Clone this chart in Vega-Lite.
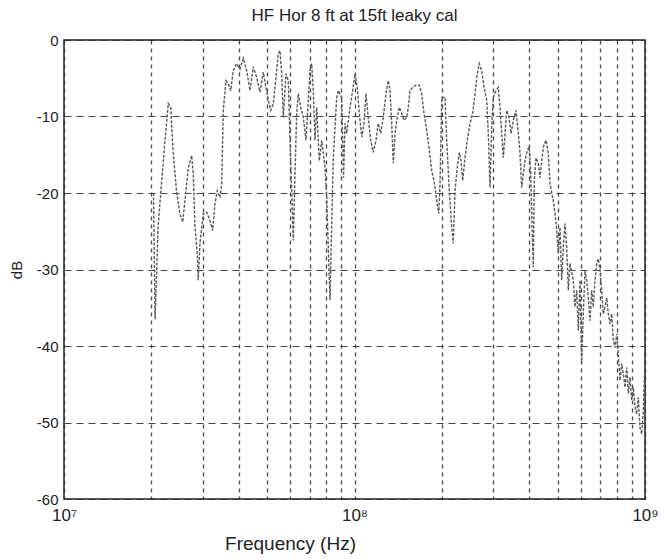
{
  "$schema": "https://vega.github.io/schema/vega-lite/v6.json",
  "width": 581,
  "height": 459,
  "autosize": {"type": "none"},
  "padding": {"left": 64, "top": 40, "right": 25, "bottom": 60},
  "background": "white",
  "title": {"text": "HF Hor 8 ft at 15ft leaky cal", "font": "Liberation Sans", "fontSize": 17, "fontWeight": "normal", "color": "#222", "offset": 8},
  "config": {
    "view": {"stroke": "#222", "strokeWidth": 1.5},
    "axis": {"labelFont": "Liberation Sans", "titleFont": "Liberation Sans", "labelColor": "#222", "titleColor": "#222", "domain": false, "ticks": false, "gridColor": "#333", "gridOpacity": 0.9}
  },
  "data": {"values": [
    {"f": 2.033e7, "db": -20}, {"f": 2.058e7, "db": -36.5}, {"f": 2.082e7, "db": -31}, {"f": 2.107e7, "db": -24.5},
    {"f": 2.169e7, "db": -18.4}, {"f": 2.227e7, "db": -13.1}, {"f": 2.286e7, "db": -8.3}, {"f": 2.330e7, "db": -8.8},
    {"f": 2.373e7, "db": -14.4}, {"f": 2.443e7, "db": -20}, {"f": 2.507e7, "db": -22.7}, {"f": 2.562e7, "db": -23.8},
    {"f": 2.609e7, "db": -21}, {"f": 2.678e7, "db": -16.7}, {"f": 2.751e7, "db": -15.1}, {"f": 2.786e7, "db": -17.5},
    {"f": 2.824e7, "db": -24.5}, {"f": 2.876e7, "db": -27.9}, {"f": 2.898e7, "db": -31.4}, {"f": 2.938e7, "db": -26.6},
    {"f": 3.016e7, "db": -22.7}, {"f": 3.098e7, "db": -22.5}, {"f": 3.180e7, "db": -23.6}, {"f": 3.249e7, "db": -24.9},
    {"f": 3.309e7, "db": -21.4}, {"f": 3.370e7, "db": -19.7}, {"f": 3.443e7, "db": -20.6}, {"f": 3.490e7, "db": -18.8},
    {"f": 3.535e7, "db": -9.2}, {"f": 3.611e7, "db": -5.3}, {"f": 3.678e7, "db": -5.7}, {"f": 3.748e7, "db": -6.6},
    {"f": 3.826e7, "db": -4.0}, {"f": 3.931e7, "db": -3.1}, {"f": 4.035e7, "db": -3.8}, {"f": 4.142e7, "db": -2.4},
    {"f": 4.255e7, "db": -4.0}, {"f": 4.368e7, "db": -6.6}, {"f": 4.483e7, "db": -3.5}, {"f": 4.605e7, "db": -4.9},
    {"f": 4.728e7, "db": -6.8}, {"f": 4.853e7, "db": -4.2}, {"f": 4.958e7, "db": -6.2}, {"f": 5.049e7, "db": -7.9},
    {"f": 5.145e7, "db": -9.2}, {"f": 5.253e7, "db": -8.3}, {"f": 5.367e7, "db": -4.9}, {"f": 5.466e7, "db": -1.8},
    {"f": 5.540e7, "db": -1.4}, {"f": 5.615e7, "db": -4.4}, {"f": 5.687e7, "db": -10.1}, {"f": 5.810e7, "db": -4.4},
    {"f": 5.917e7, "db": -5.3}, {"f": 5.998e7, "db": -13.1}, {"f": 6.079e7, "db": -19.7}, {"f": 6.156e7, "db": -26.2},
    {"f": 6.240e7, "db": -17.5}, {"f": 6.324e7, "db": -9.6}, {"f": 6.405e7, "db": -7.0}, {"f": 6.528e7, "db": -8.8},
    {"f": 6.665e7, "db": -10.1}, {"f": 6.808e7, "db": -13.1}, {"f": 6.934e7, "db": -7.9}, {"f": 7.027e7, "db": -4.0},
    {"f": 7.123e7, "db": -3.1}, {"f": 7.214e7, "db": -6.6}, {"f": 7.311e7, "db": -13.1}, {"f": 7.411e7, "db": -8.8},
    {"f": 7.565e7, "db": -15.8}, {"f": 7.711e7, "db": -13.1}, {"f": 7.915e7, "db": -16.6}, {"f": 8.022e7, "db": -20.6},
    {"f": 8.124e7, "db": -27.1}, {"f": 8.235e7, "db": -34.0}, {"f": 8.346e7, "db": -24}, {"f": 8.453e7, "db": -15.4},
    {"f": 8.684e7, "db": -7.5}, {"f": 8.795e7, "db": -6.6}, {"f": 9.035e7, "db": -7.5}, {"f": 9.166e7, "db": -18},
    {"f": 9.276e7, "db": -10.9}, {"f": 9.400e7, "db": -12.2}, {"f": 9.650e7, "db": -8.8}, {"f": 9.858e7, "db": -6.6},
    {"f": 1.004e8, "db": -4.4}, {"f": 1.022e8, "db": -6.2}, {"f": 1.039e8, "db": -9.6}, {"f": 1.059e8, "db": -12.7},
    {"f": 1.078e8, "db": -10.9}, {"f": 1.095e8, "db": -7.0}, {"f": 1.115e8, "db": -10.1}, {"f": 1.137e8, "db": -13.1},
    {"f": 1.160e8, "db": -14.7}, {"f": 1.186e8, "db": -13.1}, {"f": 1.207e8, "db": -10.9}, {"f": 1.231e8, "db": -12.2},
    {"f": 1.256e8, "db": -10.1}, {"f": 1.284e8, "db": -7.0}, {"f": 1.307e8, "db": -5.3}, {"f": 1.325e8, "db": -6.6},
    {"f": 1.343e8, "db": -10.9}, {"f": 1.360e8, "db": -16.1}, {"f": 1.379e8, "db": -12.2}, {"f": 1.398e8, "db": -10.5},
    {"f": 1.427e8, "db": -8.8}, {"f": 1.454e8, "db": -9.6}, {"f": 1.481e8, "db": -10.5}, {"f": 1.513e8, "db": -10.1},
    {"f": 1.532e8, "db": -8.8}, {"f": 1.552e8, "db": -6.6}, {"f": 1.586e8, "db": -6.2}, {"f": 1.628e8, "db": -5.9},
    {"f": 1.671e8, "db": -5.9}, {"f": 1.703e8, "db": -7.0}, {"f": 1.735e8, "db": -9.6}, {"f": 1.772e8, "db": -11.8},
    {"f": 1.805e8, "db": -14.0}, {"f": 1.844e8, "db": -17.1}, {"f": 1.878e8, "db": -18.4}, {"f": 1.919e8, "db": -21.0},
    {"f": 1.950e8, "db": -22.7}, {"f": 1.970e8, "db": -18.8}, {"f": 1.997e8, "db": -7.5}, {"f": 2.049e8, "db": -7.5},
    {"f": 2.077e8, "db": -13.1}, {"f": 2.120e8, "db": -19.7}, {"f": 2.161e8, "db": -24.5}, {"f": 2.188e8, "db": -26.6},
    {"f": 2.218e8, "db": -19.7}, {"f": 2.259e8, "db": -16.6}, {"f": 2.295e8, "db": -14.7}, {"f": 2.326e8, "db": -15.8},
    {"f": 2.358e8, "db": -18.4}, {"f": 2.401e8, "db": -15.4}, {"f": 2.445e8, "db": -13.1}, {"f": 2.498e8, "db": -10.9},
    {"f": 2.552e8, "db": -9.6}, {"f": 2.599e8, "db": -7.0}, {"f": 2.647e8, "db": -4.4}, {"f": 2.689e8, "db": -3.1},
    {"f": 2.741e8, "db": -4.0}, {"f": 2.792e8, "db": -6.2}, {"f": 2.852e8, "db": -7.9}, {"f": 2.888e8, "db": -12.2},
    {"f": 2.927e8, "db": -19.3}, {"f": 2.967e8, "db": -11.4}, {"f": 3.005e8, "db": -7.5}, {"f": 3.070e8, "db": -6.6},
    {"f": 3.126e8, "db": -6.2}, {"f": 3.169e8, "db": -8.8}, {"f": 3.212e8, "db": -12.2}, {"f": 3.253e8, "db": -15.4},
    {"f": 3.297e8, "db": -12.2}, {"f": 3.341e8, "db": -9.2}, {"f": 3.403e8, "db": -10.1}, {"f": 3.457e8, "db": -12.2},
    {"f": 3.521e8, "db": -10.5}, {"f": 3.597e8, "db": -9.2}, {"f": 3.664e8, "db": -12.2}, {"f": 3.713e8, "db": -14.8},
    {"f": 3.764e8, "db": -19.3}, {"f": 3.812e8, "db": -17.5}, {"f": 3.863e8, "db": -15.8}, {"f": 3.934e8, "db": -14.4},
    {"f": 3.997e8, "db": -14.0}, {"f": 4.041e8, "db": -17.5}, {"f": 4.083e8, "db": -24.0}, {"f": 4.126e8, "db": -29.7},
    {"f": 4.158e8, "db": -18.4}, {"f": 4.215e8, "db": -15.4}, {"f": 4.292e8, "db": -16.1}, {"f": 4.351e8, "db": -18.0},
    {"f": 4.466e8, "db": -14.0}, {"f": 4.562e8, "db": -13.1}, {"f": 4.646e8, "db": -14.8}, {"f": 4.710e8, "db": -18.8},
    {"f": 4.834e8, "db": -21}, {"f": 4.900e8, "db": -22.7}, {"f": 4.966e8, "db": -24.9}, {"f": 5.029e8, "db": -27.9},
    {"f": 5.098e8, "db": -24.5}, {"f": 5.167e8, "db": -31.4}, {"f": 5.233e8, "db": -27.1}, {"f": 5.304e8, "db": -24.0},
    {"f": 5.376e8, "db": -27.1}, {"f": 5.445e8, "db": -32.7}, {"f": 5.518e8, "db": -29.2}, {"f": 5.665e8, "db": -31.4},
    {"f": 5.741e8, "db": -34.9}, {"f": 5.820e8, "db": -32.7}, {"f": 5.894e8, "db": -38.0}, {"f": 5.973e8, "db": -31.4},
    {"f": 6.055e8, "db": -42.3}, {"f": 6.132e8, "db": -35.8}, {"f": 6.216e8, "db": -30.1}, {"f": 6.300e8, "db": -31.4},
    {"f": 6.380e8, "db": -33.7}, {"f": 6.467e8, "db": -36.7}, {"f": 6.554e8, "db": -32.7}, {"f": 6.638e8, "db": -34.9},
    {"f": 6.728e8, "db": -31.4}, {"f": 6.819e8, "db": -29.2}, {"f": 6.906e8, "db": -28.6}, {"f": 7.000e8, "db": -30.1},
    {"f": 7.094e8, "db": -32.7}, {"f": 7.186e8, "db": -35.8}, {"f": 7.283e8, "db": -34.9}, {"f": 7.382e8, "db": -33.7},
    {"f": 7.476e8, "db": -35.8}, {"f": 7.578e8, "db": -37.1}, {"f": 7.681e8, "db": -35.8}, {"f": 7.779e8, "db": -39.3},
    {"f": 7.884e8, "db": -40.2}, {"f": 7.991e8, "db": -38.4}, {"f": 8.093e8, "db": -41.0}, {"f": 8.202e8, "db": -44.5},
    {"f": 8.314e8, "db": -42.3}, {"f": 8.420e8, "db": -43.6}, {"f": 8.535e8, "db": -45.4}, {"f": 8.650e8, "db": -42.8},
    {"f": 8.761e8, "db": -46.2}, {"f": 8.880e8, "db": -44.1}, {"f": 9.000e8, "db": -47.1}, {"f": 9.115e8, "db": -45.4},
    {"f": 9.239e8, "db": -48.0}, {"f": 9.363e8, "db": -48.9}, {"f": 9.483e8, "db": -46.7}, {"f": 9.612e8, "db": -50.7},
    {"f": 9.741e8, "db": -51.5}, {"f": 9.867e8, "db": -48.4}, {"f": 9.96e8, "db": -43.6}
  ]},
  "mark": {"type": "line", "color": "#5a5a5a", "strokeWidth": 1.4, "strokeDash": [3, 1.5], "clip": true},
  "encoding": {
    "x": {
      "field": "f", "type": "quantitative",
      "scale": {"type": "log", "domain": [10000000, 1000000000], "nice": false},
      "axis": {
        "title": "Frequency (Hz)", "titleFontSize": 19, "titleFontWeight": "normal",
        "titleX": 226, "titleY": 44, "titleAlign": "center", "titleBaseline": "middle",
        "values": [10000000, 20000000, 30000000, 40000000, 50000000, 60000000, 70000000, 80000000, 90000000, 100000000, 200000000, 300000000, 400000000, 500000000, 600000000, 700000000, 800000000, 900000000, 1000000000],
        "labelExpr": "abs(datum.value-1e7)<1 ? '10⁷' : abs(datum.value-1e8)<1 ? '10⁸' : abs(datum.value-1e9)<1 ? '10⁹' : ''",
        "labelFontSize": 17, "labelPadding": 8, "labelFlush": false, "labelOverlap": false,
        "grid": true, "gridDash": [4, 4], "gridWidth": 1.3
      }
    },
    "y": {
      "field": "db", "type": "quantitative",
      "scale": {"domain": [-60, 0], "nice": false},
      "axis": {
        "title": "dB", "titleFontSize": 15, "titleFontWeight": "normal", "titlePadding": 12,
        "values": [-60, -50, -40, -30, -20, -10, 0],
        "labelExpr": "datum.value == 0 ? '0' : '-' + abs(datum.value)",
        "labelFontSize": 15, "labelPadding": 6,
        "grid": true, "gridDash": [7, 5], "gridWidth": 1.2
      }
    }
  }
}
